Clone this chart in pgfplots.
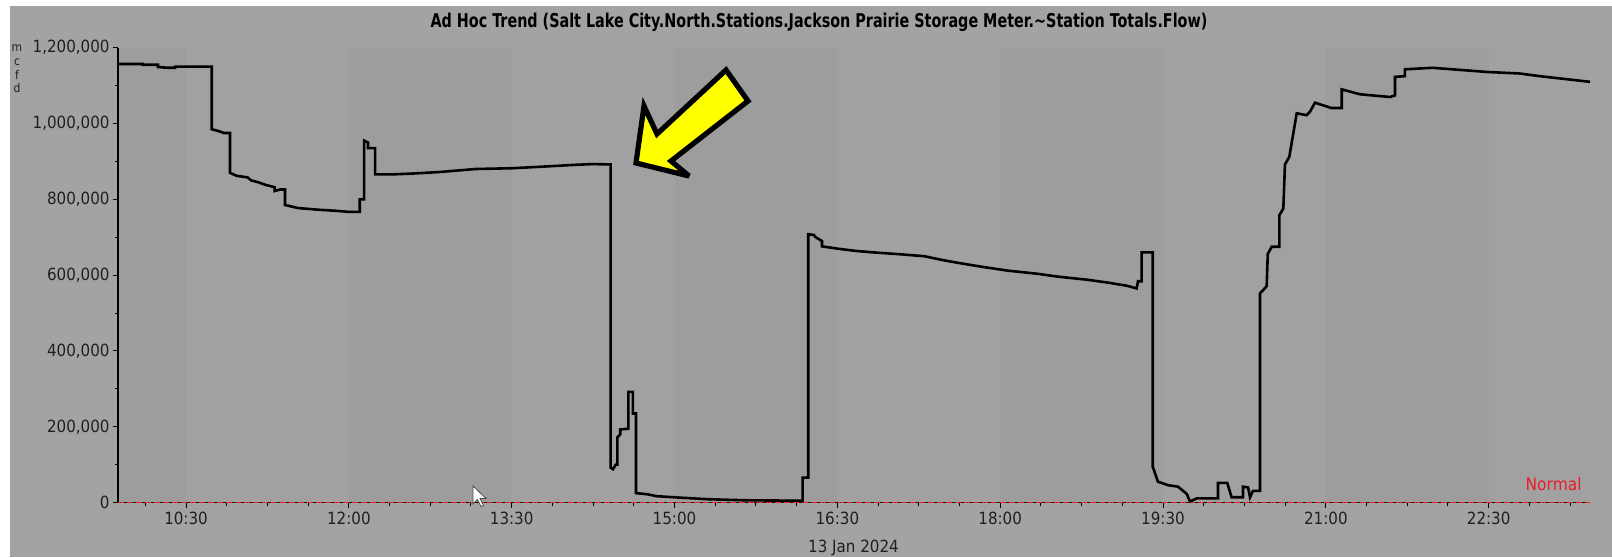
\documentclass[border=0pt]{standalone}
\usepackage{fontspec}
\setmainfont{DejaVu Sans Condensed}
\usepackage{pgfplots}
\pgfplotsset{compat=1.18}
\definecolor{outerbg}{RGB}{163,163,163}
\definecolor{lightband}{RGB}{161,161,161}
\definecolor{darkband}{RGB}{157,157,157}
\definecolor{ticktext}{RGB}{32,32,32}
\definecolor{normalred}{RGB}{235,30,40}
\definecolor{arrowyellow}{RGB}{255,255,0}
\begin{document}
\begin{tikzpicture}
\begin{scope}[x=0.5pt,y=-0.5pt]
\fill[white] (0,0) rectangle (1612,557);
\fill[outerbg] (10,6) rectangle (1612,557);
\fill[darkband]  (118,47.7) rectangle (186,502.6);
\fill[lightband] (186,47.7) rectangle (348.8,502.6);
\fill[darkband]  (348.8,47.7) rectangle (511.7,502.6);
\fill[lightband] (511.7,47.7) rectangle (674.5,502.6);
\fill[darkband]  (674.5,47.7) rectangle (837.4,502.6);
\fill[lightband] (837.4,47.7) rectangle (1000.2,502.6);
\fill[darkband]  (1000.2,47.7) rectangle (1163.0,502.6);
\fill[lightband] (1163.0,47.7) rectangle (1325.9,502.6);
\fill[darkband]  (1325.9,47.7) rectangle (1488.7,502.6);
\fill[lightband] (1488.7,47.7) rectangle (1590,502.6);
\end{scope}
\begin{axis}[
  at={(59pt,-251.3pt)}, anchor=south west, scale only axis,
  width=736pt, height=227.45pt,
  xmin=592.4, xmax=1406, ymin=0, ymax=1200000,
  axis x line=bottom, axis y line=left,
  axis line style={-, black, line width=0.6pt},
  xtick={630,720,...,1350},
  xticklabels={10:30,12:00,13:30,15:00,16:30,18:00,19:30,21:00,22:30},
  minor xtick={607.5,630,...,1395},
  ytick={0,200000,...,1200000},
  minor ytick={100000,300000,...,1100000},
  tick align=outside,
  major tick length=2.6pt, minor tick length=1.6pt,
  every tick/.style={black, line width=0.5pt},
  scaled y ticks=false,
  /pgf/number format/assume math mode=true,
  /pgf/number format/fixed,
  /pgf/number format/1000 sep={,},
  ticklabel style={font=\fontsize{8.4}{10}\selectfont, text=ticktext},
  yticklabel style={inner xsep=1.4pt},
  xticklabel style={inner ysep=2pt},
  clip=false,
]
\addplot[normalred, line width=0.6pt, dash pattern=on 3pt off 1.5pt] coordinates {(592.4,0) (1406,0)};
\addplot[black, line width=1.3pt, line join=miter, mark=none] coordinates {
(592.5,1157000) (606,1157000) (606,1155000) (614.5,1155000) (614.5,1149000)
(620,1147000) (624,1147000) (624,1150000) (644.2,1150000) (644.2,985000)
(648,980000) (651,975000) (654.3,975000) (654.3,870000) (658,862000)
(664,858000) (666,850000) (670,845000) (674,838000) (679,832000)
(679,822000) (682,826000) (684.7,826000) (684.7,785000) (692,777000)
(702,773000) (712,770000) (720,767000) (726,767000) (726,800000)
(728.4,800000) (728.4,955000) (730.6,950000) (730.6,935000) (734.5,935000)
(734.5,866000) (745,866000) (755,868000) (770,872000) (790,880000)
(810,882000) (830,887000) (845,891000) (855,893000) (864.7,892000)
(864.7,92000) (866,88000) (867.5,100000) (868.4,100000) (868.4,172000)
(870,180000) (870,193000) (874.5,195000) (874.5,292000) (877,292000)
(877,235000) (878.7,235000) (878.7,25000) (885,22000) (890,17000)
(900,14000) (918,9000) (940,6000) (970.8,5000) (970.8,66000)
(973.9,66000) (973.9,708000) (977,706000) (978,700000) (981.5,690000)
(981.5,676000) (990,670000) (1000,664000) (1010,660000) (1025,655000)
(1038,650000) (1048,640000) (1056,633000) (1070,622000) (1084,612000)
(1100,604000) (1112,596000) (1128,588000) (1140,580000) (1150,572000)
(1155.4,565000) (1156.2,584000) (1158.2,584000) (1158.2,660000) (1164.3,660000)
(1164.3,95000) (1167.2,55000) (1172.8,46000) (1178.3,42000) (1183.1,23000)
(1184.9,3000) (1188.6,11000) (1200.4,11000) (1200.4,52000) (1205.5,52000)
(1207.9,14000) (1214.2,14000) (1214.2,42000) (1217,40000) (1218.1,14000)
(1219.7,31000) (1223.6,31000) (1223.6,552000) (1225.4,561000) (1227.3,571000)
(1227.9,656000) (1230.1,675000) (1234.3,675000) (1234.3,758000) (1236.5,776000)
(1237.4,892000) (1239.8,912000) (1243.9,1027000) (1249.4,1022000) (1251.2,1031000)
(1254,1055000) (1263,1041000) (1268.8,1041000) (1268.8,1090000) (1279,1077000)
(1295.4,1070000) (1298.2,1074000) (1298.2,1123000) (1303.7,1125000) (1303.7,1143000)
(1319,1147000) (1349,1136000) (1367,1132000) (1378,1125000) (1406,1110000)
};
\end{axis}
\begin{scope}[x=0.5pt,y=-0.5pt]
\node[font=\fontsize{9.5}{11}\selectfont\bfseries, text=black, inner sep=0pt] at (819,22)
  {\scalebox{0.84}[1]{Ad Hoc Trend (Salt Lake City.North.Stations.Jackson Prairie Storage Meter.\textasciitilde Station Totals.Flow)}};
\node[font=\fontsize{8.4}{10}\selectfont, text=ticktext, inner sep=0pt] at (853.5,548) {13 Jan 2024};
\node[font=\fontsize{8.6}{10}\selectfont, text=normalred, inner sep=0pt, anchor=east] at (1582,484) {Normal};
\foreach \l/\yy in {m/47.7,c/62.3,f/75,d/88.3}
  \node[font=\fontsize{6}{7}\selectfont, text=ticktext, inner sep=0pt] at (17,\yy) {\l};
% yellow arrow annotation
\draw[black, line width=2.6pt, fill=arrowyellow, line join=miter, miter limit=4]
  (636,163) -- (644,106) -- (657,134) -- (726,70) -- (748,101) -- (671,161) -- (689,176) -- cycle;
% mouse cursor
\draw[black!70, fill=white, line width=0.4pt]
  (473,486) -- (473,504) -- (477.5,499.5) -- (481,506.5) -- (483.5,505.5) -- (480,498.5) -- (486,498.5) -- cycle;
\end{scope}
\end{tikzpicture}
\end{document}
